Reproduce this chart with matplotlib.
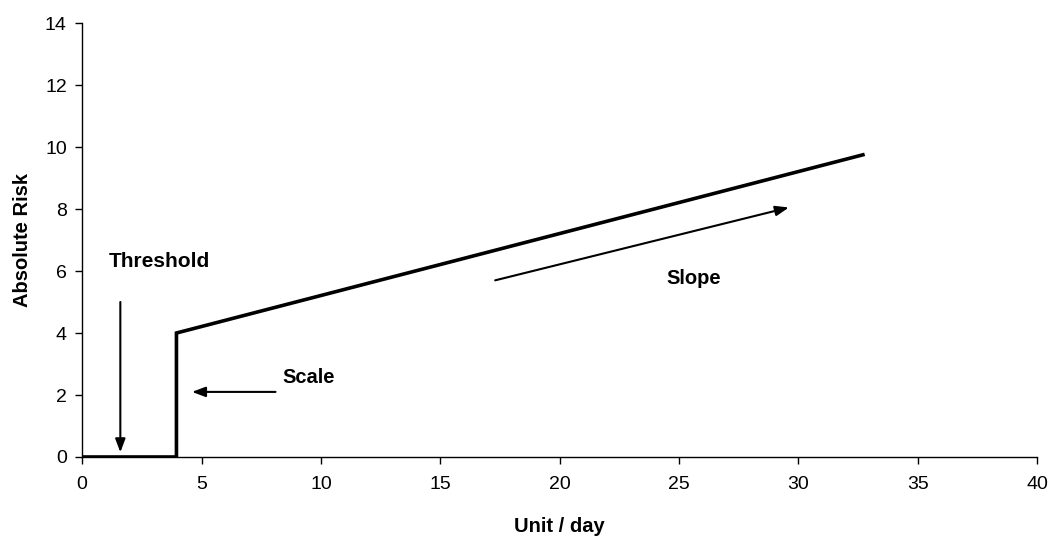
import matplotlib
matplotlib.use("Agg")
import matplotlib.pyplot as plt

plt.rcParams['font.family'] = ['Liberation Sans', 'DejaVu Sans']

# risk curve: flat at zero, jump at threshold, then linear slope
dose = [0, 3.95, 3.95, 32.7]
risk = [0, 0, 4.0, 9.75]

xticks = [0, 5, 10, 15, 20, 25, 30, 35, 40]
yticks = [0, 2, 4, 6, 8, 10, 12, 14]

fig = plt.figure(figsize=(10.53, 5.37), dpi=100)
ax = fig.add_axes([0.078, 0.149, 0.907, 0.808])

ax.plot(dose, risk, color="black", lw=2.6, solid_joinstyle="miter")

ax.set_xlim(0, 40)
ax.set_ylim(0, 14)
ax.set_xticks(xticks)
ax.set_yticks(yticks)
ax.tick_params(direction="out", length=5, width=1, labelsize=14)
ax.tick_params(axis="x", pad=9)
ax.tick_params(axis="y", pad=6)
for side in ("top", "right"):
    ax.spines[side].set_visible(False)
for side in ("left", "bottom"):
    ax.spines[side].set_linewidth(1)

ax.set_xlabel("Unit / day", fontsize=14.5, fontweight="bold", labelpad=17)
ax.set_ylabel("Absolute Risk", fontsize=14.5, fontweight="bold", labelpad=9)

arrow = dict(arrowstyle="-|>,head_length=0.8,head_width=0.3", color="black", lw=1.5,
             shrinkA=0, shrinkB=0)

# threshold
ax.annotate("", xy=(1.6, 0.15), xytext=(1.6, 5.0), arrowprops=arrow)
ax.text(1.1, 6.3, "Threshold", fontsize=15, fontweight="bold", va="center", ha="left")

# scale
ax.annotate("", xy=(4.6, 2.1), xytext=(8.1, 2.1), arrowprops=arrow)
ax.text(8.4, 2.55, "Scale", fontsize=14.5, fontweight="bold", va="center", ha="left")

# slope
ax.annotate("", xy=(29.6, 8.05), xytext=(17.3, 5.7), arrowprops=arrow)
ax.text(25.6, 5.77, "Slope", fontsize=14.5, fontweight="bold", va="center", ha="center")

fig.savefig("out.png", dpi=100)
